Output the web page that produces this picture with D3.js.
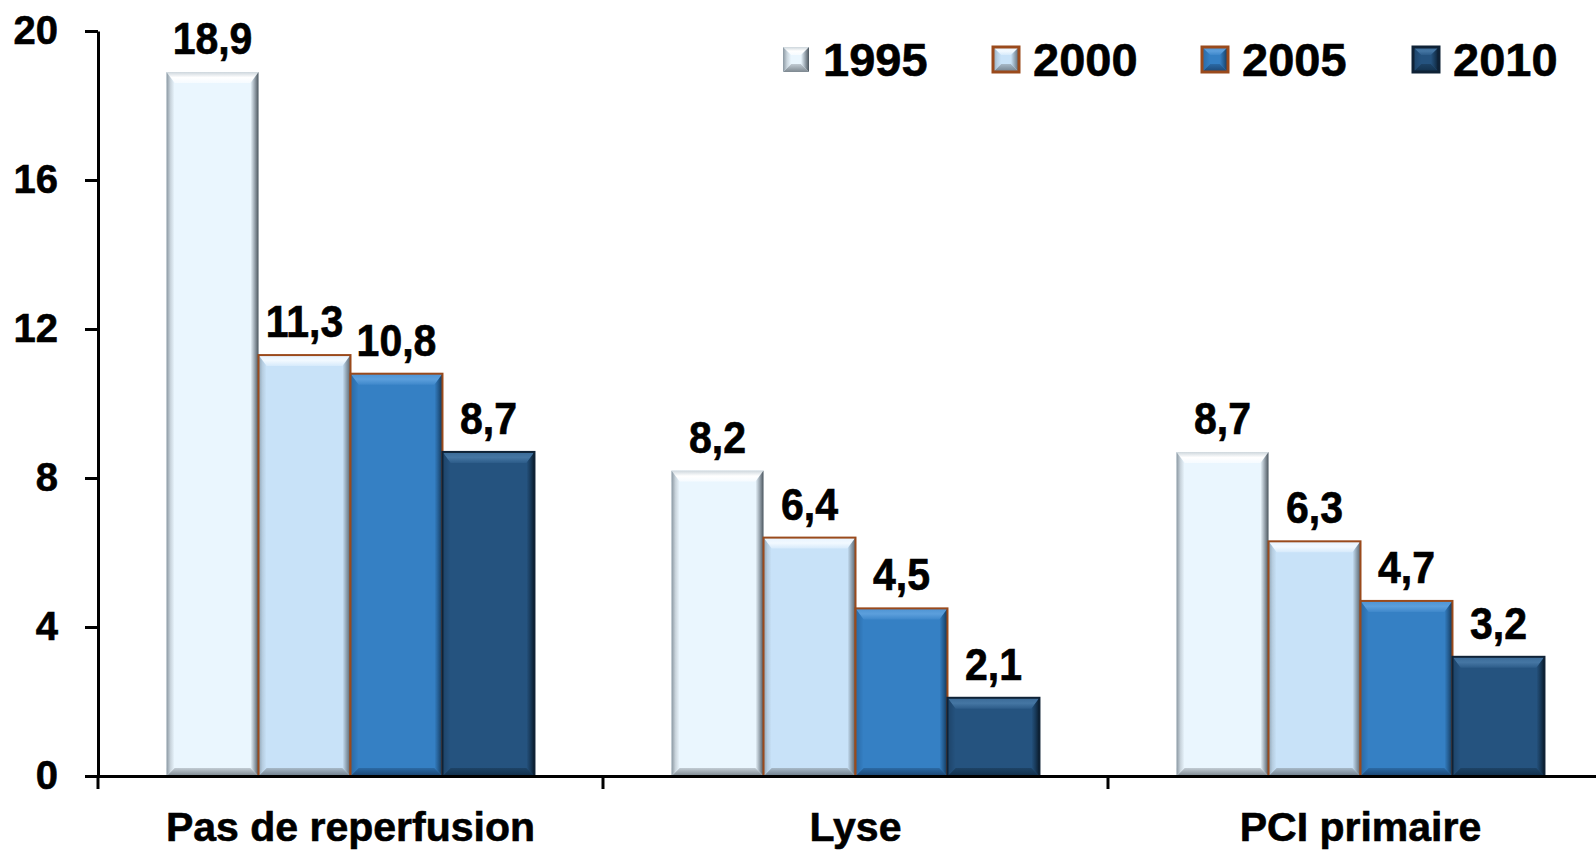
<!DOCTYPE html>
<html>
<head>
<meta charset="utf-8">
<script src="https://cdn.jsdelivr.net/npm/d3@7"></script>
<style>
  html, body { margin: 0; padding: 0; background: #fff; overflow: hidden; }
  svg { display: block; font-family: "Liberation Sans", Arial, sans-serif; font-weight: bold; }
  svg text { stroke: #000; stroke-width: 0.6px; }
</style>
</head>
<body>
<svg id="chart" width="1596" height="850"></svg>
<script>
// ---- data ----
const categories = ["Pas de reperfusion", "Lyse", "PCI primaire"];
const series = ["1995", "2000", "2005", "2010"];
const values1995 = [18.9, 8.2, 8.7];
const values2000 = [11.3, 6.4, 6.3];
const values2005 = [10.8, 4.5, 4.7];
const values2010 = [8.7, 2.1, 3.2];
const yTicks = [0, 4, 8, 12, 16, 20];

const seriesValues = [values1995, values2000, values2005, values2010];

// ---- styles ----
const styles = {
  "1995": { base: "#eaf6fe", top: ["#cdd6dc", "#ffffff", "#f6fbff"], left: ["#8a97a1", "#c9d4dc", "#eaf6fe"], right: ["#eaf6fe", "#9ba7b1", "#4b555d"], bottom: ["#c2ccd4", "#7d8890"], stroke: "none" },
  "2000": { base: "#c8e2f8", top: ["#e6f3ff", "#f2f9ff", "#d6eafb"], left: ["#8ea3b4", "#b6cde0", "#c8e2f8"], right: ["#c8e2f8", "#8fa1b0", "#56636e"], bottom: ["#a7b9c8", "#6f7e8b"], stroke: "#9a4a1c" },
  "2005": { base: "#3580c4", top: ["#4d93d3", "#5c9fdc", "#3f88cb"], left: ["#2a69a3", "#2f74b4", "#3580c4"], right: ["#3580c4", "#245c90", "#133552"], bottom: ["#2b6aa5", "#1c4672"], stroke: "#9a4a1c" },
  "2010": { base: "#25537f", top: ["#3a6a97", "#4576a3", "#2d5c89"], left: ["#1d4468", "#214b74", "#25537f"], right: ["#25537f", "#183a5a", "#0b1c2d"], bottom: ["#1d4366", "#12304c"], stroke: "#0f2236" }
};

const svg = d3.select("#chart");
const defs = svg.append("defs");

series.forEach((s, i) => {
  const st = styles[s];
  function grad(id, x1, y1, x2, y2, cols) {
    const g = defs.append("linearGradient").attr("id", id)
      .attr("x1", x1).attr("y1", y1).attr("x2", x2).attr("y2", y2);
    cols.forEach((c, k) => g.append("stop").attr("offset", k / (cols.length - 1)).attr("stop-color", c));
  }
  grad("top" + i, 0, 0, 0, 1, st.top);
  grad("bot" + i, 0, 0, 0, 1, st.bottom);
  grad("left" + i, 0, 0, 1, 0, st.left);
  grad("right" + i, 0, 0, 1, 0, st.right);
});

// ---- scales ----
const margin = { left: 98, top: 31, bottom: 776 };
const x0 = d3.scaleBand().domain(categories).range([98, 1613]).paddingInner(0).paddingOuter(0);
const x1 = d3.scaleBand().domain(series).range([0, x0.bandwidth()]).paddingInner(0).paddingOuter(0.745);
const y = d3.scaleLinear().domain([0, 20]).range([776, 31]);

// ---- bevel drawing ----
function bevel(g, xa, ya, xb, yb, i, bt, bs, bb) {
  const st = styles[series[i]];
  const h = yb - ya;
  bt = Math.min(bt, h / 2); bb = Math.min(bb, h / 2);
  g.append("rect").attr("x", xa).attr("y", ya).attr("width", xb - xa).attr("height", h).attr("fill", st.base);
  const poly = pts => "M" + pts.map(p => p.join(",")).join("L") + "Z";
  g.append("path").attr("d", poly([[xa, ya], [xb, ya], [xb - bs, ya + bt], [xa + bs, ya + bt]])).attr("fill", `url(#top${i})`);
  g.append("path").attr("d", poly([[xa, yb], [xb, yb], [xb - bs, yb - bb], [xa + bs, yb - bb]])).attr("fill", `url(#bot${i})`);
  g.append("path").attr("d", poly([[xa, ya], [xa + bs, ya + bt], [xa + bs, yb - bb], [xa, yb]])).attr("fill", `url(#left${i})`);
  g.append("path").attr("d", poly([[xb, ya], [xb - bs, ya + bt], [xb - bs, yb - bb], [xb, yb]])).attr("fill", `url(#right${i})`);
  if (st.stroke !== "none") {
    g.append("rect").attr("x", xa).attr("y", ya).attr("width", xb - xa).attr("height", h)
      .attr("fill", "none").attr("stroke", st.stroke).attr("stroke-width", 2);
  }
}

// ---- bars ----
const barsG = svg.append("g");
categories.forEach((c, ci) => {
  series.forEach((s, si) => {
    const v = seriesValues[si][ci];
    const xa = x0(c) + x1(s);
    const xb = xa + x1.bandwidth();
    bevel(barsG.append("g"), xa, y(v), xb, y(0), si, 11, 8, 8);
    barsG.append("text")
      .attr("transform", `translate(${(xa + xb) / 2},${y(v) - 18}) scale(1,1.1)`)
      .attr("text-anchor", "middle").attr("font-size", 41).attr("fill", "#000")
      .text(String(v.toFixed(1)).replace(".", ","));
  });
});

// ---- y axis ----
const yAxis = d3.axisLeft(y).tickValues(yTicks).tickSize(13).tickSizeOuter(0).tickPadding(27);
const yg = svg.append("g").attr("transform", `translate(${margin.left},0)`).call(yAxis);
yg.select(".domain").attr("stroke", "#000").attr("stroke-width", 3);
yg.selectAll(".tick line").attr("stroke", "#000").attr("stroke-width", 3);
yg.selectAll(".tick text").attr("font-size", 40).attr("font-weight", "bold").attr("fill", "#000")
  .attr("font-family", "Liberation Sans, Arial, sans-serif");

// ---- x axis ----
const xAxis = d3.axisBottom(x0).tickSize(0).tickSizeOuter(0).tickPadding(36);
const xg = svg.append("g").attr("transform", `translate(0,${y(0)})`).call(xAxis);
xg.select(".domain").attr("stroke", "#000").attr("stroke-width", 3);
xg.selectAll(".tick text").attr("font-size", 41).attr("font-weight", "bold").attr("fill", "#000")
  .attr("font-family", "Liberation Sans, Arial, sans-serif");
// category boundary ticks
const bounds = categories.map(c => x0(c)).concat([x0(categories[categories.length - 1]) + x0.bandwidth()]);
xg.selectAll("line.bound").data(bounds).enter().append("line")
  .attr("class", "bound")
  .attr("x1", d => d).attr("x2", d => d).attr("y1", 0).attr("y2", 13)
  .attr("stroke", "#000").attr("stroke-width", 3);

// ---- legend ----
const legendX = [783, 993, 1202, 1413];
const lg = svg.append("g");
series.forEach((s, i) => {
  const g = lg.append("g");
  bevel(g, legendX[i], 47, legendX[i] + 26, 72, i, 8, 8, 8);
  if (styles[s].stroke !== "none") {
    g.select("rect:last-child").attr("stroke-width", 3);
  }
  g.append("text").attr("x", legendX[i] + 40).attr("y", 76)
    .attr("font-size", 47).attr("fill", "#000").text(s);
});
</script>
</body>
</html>
